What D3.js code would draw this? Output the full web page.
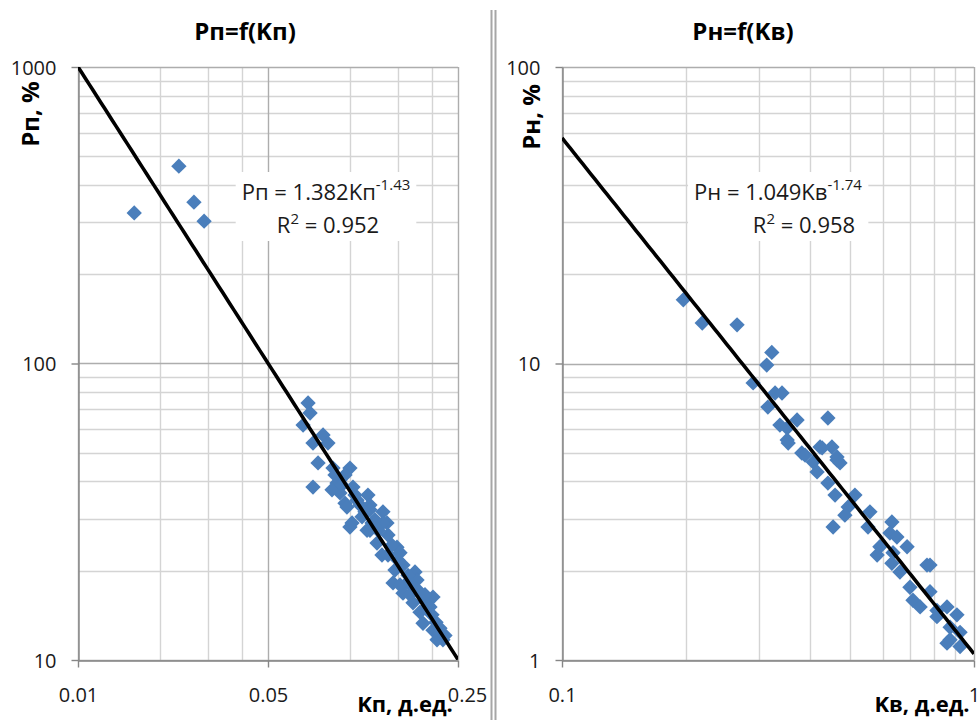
<!DOCTYPE html>
<html><head><meta charset="utf-8">
<script src="https://cdn.jsdelivr.net/npm/d3@7"></script>
<style>
html,body{margin:0;padding:0;background:#fff;}
svg{display:block;font-family:"Open Sans",sans-serif;}
</style></head>
<body><svg id="c" width="979" height="720"></svg>
<script>
// ---- Data ----
const leftKp = [0.0161,0.0235,0.0267,0.0291,
0.0702,0.0714,0.0673,0.0797,0.0831,0.0732,0.0764,0.0732,0.0867,0.1001,0.0960,0.0897,0.0920,0.1027,0.0960,0.1063,
0.1166,0.1186,0.1019,0.1001,0.1109,0.1324,0.1370,0.1157,0.1207,0.0860,0.0920,0.0976,0.1186,0.1186,0.1324,0.1259,
0.1491,0.1530,0.1313,0.1466,0.1737,0.1442,0.1623,0.1767,0.1569,0.1812,0.2023,0.1708,0.1972,0.1859,0.2023,0.2146,
0.2201,0.2093,0.1812,0.1923,0.0882,0.0936,0.1045,0.1090,0.1137,0.1238,0.1270,0.1382,0.1429,0.1382,0.1504,0.1569,
0.1637,0.1693,0.1781,0.1890,0.1939,0.2006,0.2075,0.2146,0.2239,0.1665,0.1530];
const leftPp = [322,463,350,302,
73.6,68.1,62.0,57.4,53.9,53.9,46.2,38.3,44.4,44.4,42.1,39.5,36.6,38.3,33.8,34.6,
36.0,33.3,29.0,28.1,30.4,31.6,29.0,27.4,29.0,37.5,40.5,32.8,32.1,27.4,29.0,24.8,
24.0,23.0,22.6,20.1,19.8,18.2,18.2,18.6,16.8,16.8,16.3,15.6,15.1,13.3,12.6,12.3,
11.7,11.7,14.5,15.9,42.1,38.9,36.0,33.3,31.6,29.7,27.4,26.4,24.4,22.6,21.7,20.9,
19.3,17.9,17.2,16.6,15.3,14.2,13.4,12.8,12.1,16.6,17.9];

const rightKv = [0.197,0.219,0.266,0.323,0.314,0.291,0.329,0.342,0.316,0.372,0.442,0.338,0.352,0.354,0.352,0.382,
0.423,0.452,0.407,0.416,0.465,0.389,0.428,0.465,0.473,0.442,0.460,0.514,0.495,0.559,0.486,0.455,0.553,0.632,0.625,
0.650,0.688,0.591,0.582,0.636,0.632,0.661,0.769,0.782,0.699,0.782,0.711,0.740,0.813,0.860,0.909,0.813,0.875,0.925,
0.875,0.925,0.860];
const rightPn = [16.4,13.7,13.5,10.9,9.88,8.60,7.95,7.95,7.13,6.45,6.55,6.20,6.06,5.39,5.52,4.99,
5.23,5.23,4.65,4.31,4.73,4.91,5.19,4.84,4.62,3.95,3.60,3.60,3.28,3.16,3.08,2.81,2.81,2.92,2.68,
2.60,2.41,2.41,2.26,2.30,2.12,1.98,2.09,2.09,1.76,1.70,1.59,1.51,1.47,1.51,1.42,1.40,1.29,1.24,
1.17,1.11,1.14];

const leftXTicks = [0.01, 0.05, 0.25];
const leftYTicks = [10, 100, 1000];
const rightXTicks = [0.1, 1];
const rightYTicks = [1, 10, 100];
const leftFit = {a: 1.382, b: -1.43, r2: 0.952};
const rightFit = {a: 1.049, b: -1.74, r2: 0.958};

const svg = d3.select("#c");
const MINOR = "#d4d4d4", MAJOR = "#adadad", AXIS = "#868686", BLUE = "#4a7ebb";

function panel(o) {
  const g = svg.append("g");
  const x = d3.scaleLog().base(o.xBase).domain(o.xDom).range([o.x0, o.x1]);
  const y = d3.scaleLog().base(10).domain(o.yDom).range([o.y1, o.y0]);
  const xMinor = [], xMajor = [];
  let v = o.xDom[0];
  while (v < o.xDom[1] * 1.0001) {
    xMajor.push(v);
    for (let k = 2; k < o.xBase; k++) if (v * k < o.xDom[1] * 0.9999) xMinor.push(v * k);
    v *= o.xBase;
  }
  const yMinor = [], yMajor = [];
  v = o.yDom[0];
  while (v < o.yDom[1] * 1.0001) {
    yMajor.push(v);
    for (let k = 2; k < 10; k++) if (v * k < o.yDom[1] * 0.9999) yMinor.push(v * k);
    v *= 10;
  }
  g.selectAll(".xm").data(xMinor).join("line")
    .attr("x1", d => Math.round(x(d)) + 0.5).attr("x2", d => Math.round(x(d)) + 0.5)
    .attr("y1", o.y0).attr("y2", o.y1).attr("stroke", MINOR).attr("stroke-width", 1.4);
  g.selectAll(".ym").data(yMinor).join("line")
    .attr("y1", d => Math.round(y(d)) + 0.5).attr("y2", d => Math.round(y(d)) + 0.5)
    .attr("x1", o.x0).attr("x2", o.x1).attr("stroke", MINOR).attr("stroke-width", 1.4);
  g.selectAll(".xM").data(xMajor).join("line")
    .attr("x1", d => Math.round(x(d)) + 0.5).attr("x2", d => Math.round(x(d)) + 0.5)
    .attr("y1", o.y0).attr("y2", o.y1).attr("stroke", MAJOR).attr("stroke-width", 1.4);
  g.selectAll(".yM").data(yMajor).join("line")
    .attr("y1", d => Math.round(y(d)) + 0.5).attr("y2", d => Math.round(y(d)) + 0.5)
    .attr("x1", o.x0).attr("x2", o.x1).attr("stroke", MAJOR).attr("stroke-width", 1.4);

  const xa = g.append("g").attr("transform", `translate(0,${o.y1 + 0.5})`)
    .call(d3.axisBottom(x).tickValues(o.xTicks).tickFormat(d => String(d)).tickSize(7).tickSizeOuter(0));
  const ya = g.append("g").attr("transform", `translate(${o.x0 + 0.5},0)`)
    .call(d3.axisLeft(y).tickValues(o.yTicks).tickFormat(d => String(d)).tickSize(7).tickSizeOuter(0));
  [xa, ya].forEach(a => {
    a.selectAll("path,line").attr("stroke", AXIS).attr("stroke-width", 1.4);
    a.selectAll("text").attr("fill", "#1a1a1a").style("font-size", "20px").style("font-family", "'Open Sans',sans-serif");
  });
  xa.selectAll("text").attr("dy", 0).attr("y", 41);
  ya.selectAll("text").attr("x", -22).attr("dy", "0.35em");
  if (o.xLastShift) xa.selectAll("text").filter((d, i, n) => i === n.length - 1).attr("dx", o.xLastShift);

  const sym = d3.symbol().type(d3.symbolDiamond2).size(150);
  g.selectAll(".pt").data(o.xs.map((d, i) => [d, o.ys[i]])).join("path")
    .attr("d", sym)
    .attr("transform", d => `translate(${x(d[0])},${y(d[1])})`)
    .attr("fill", BLUE);

  const clipId = "clip" + o.id;
  svg.append("clipPath").attr("id", clipId).append("rect")
    .attr("x", o.x0).attr("y", o.y0).attr("width", o.x1 - o.x0).attr("height", o.y1 - o.y0);
  const lx = d3.range(0, 101).map(i => o.xDom[0] * Math.pow(o.xDom[1] / o.xDom[0], i / 100));
  g.append("path").datum(lx)
    .attr("clip-path", `url(#${clipId})`)
    .attr("d", d3.line().x(d => x(d)).y(d => y(o.fit.a * Math.pow(d, o.fit.b))))
    .attr("fill", "none").attr("stroke", "#000").attr("stroke-width", 3.6);

  const eq = g.append("g");
  const t1 = eq.append("text").attr("x", o.eqX1).attr("y", o.eqY).attr("text-anchor", "middle")
    .style("font-size", "22px").attr("fill", "#1a1a1a");
  t1.append("tspan").text(`${o.yName} = ${o.fit.a.toFixed(3)}${o.xName}`);
  t1.append("tspan").attr("dy", -10).style("font-size", "15px").text(o.fit.b.toFixed(2));
  const t2 = eq.append("text").attr("x", o.eqX2).attr("y", o.eqY + 33).attr("text-anchor", "middle")
    .style("font-size", "22px").attr("fill", "#1a1a1a");
  t2.append("tspan").text("R");
  t2.append("tspan").attr("dy", -9).style("font-size", "15px").text("2");
  t2.append("tspan").attr("dy", 9).text(` = ${o.fit.r2.toFixed(3)}`);
  const b1 = t1.node().getBBox(), b2 = t2.node().getBBox();
  const bx0 = Math.min(b1.x, b2.x) - 6, bx1 = Math.max(b1.x + b1.width, b2.x + b2.width) + 6;
  eq.insert("rect", "text").attr("x", bx0).attr("y", b1.y - 2)
    .attr("width", bx1 - bx0).attr("height", b2.y + b2.height - b1.y + 4).attr("fill", "#fff");

  svg.append("text").attr("x", o.titleX).attr("y", 40).attr("text-anchor", "middle")
    .style("font-size", "24px").style("font-weight", "bold").attr("fill", "#000").text(o.title);
  svg.append("text").attr("transform", `translate(${o.yTitleX},${o.yTitleY}) rotate(-90)`)
    .attr("text-anchor", "middle").style("font-size", "24px").style("font-weight", "bold")
    .attr("fill", "#000").text(o.yTitle);
  svg.append("text").attr("x", o.xTitleX).attr("y", 712).attr("text-anchor", "middle")
    .style("font-size", "22px").style("font-weight", "bold").attr("fill", "#000").text(o.xTitle);
}

panel({id: "L", x0: 78, x1: 458, y0: 67, y1: 660, xBase: 5, xDom: [0.01, 0.25], yDom: [10, 1000],
  xTicks: leftXTicks, yTicks: leftYTicks, xs: leftKp, ys: leftPp, fit: leftFit,
  xName: "Kп", yName: "Pп", eqX1: 326, eqX2: 328, eqY: 200, xLastShift: 9,
  title: "Pп=f(Kп)", titleX: 245, yTitle: "Pп, %", yTitleX: 39, yTitleY: 114,
  xTitle: "Kп, д.ед.", xTitleX: 405});

panel({id: "R", x0: 562, x1: 974, y0: 67, y1: 660, xBase: 10, xDom: [0.1, 1], yDom: [1, 100],
  xTicks: rightXTicks, yTicks: rightYTicks, xs: rightKv, ys: rightPn, fit: rightFit,
  xName: "Kв", yName: "Pн", eqX1: 778, eqX2: 804, eqY: 200, xLastShift: 0,
  title: "Pн=f(Kв)", titleX: 743, yTitle: "Pн, %", yTitleX: 540, yTitleY: 117,
  xTitle: "Kв, д.ед.", xTitleX: 922});

[491.5, 495.5].forEach(xx => svg.append("line").attr("x1", xx).attr("x2", xx).attr("y1", 10).attr("y2", 720)
  .attr("stroke", "#a6a6a6").attr("stroke-width", 2));
</script></body></html>
